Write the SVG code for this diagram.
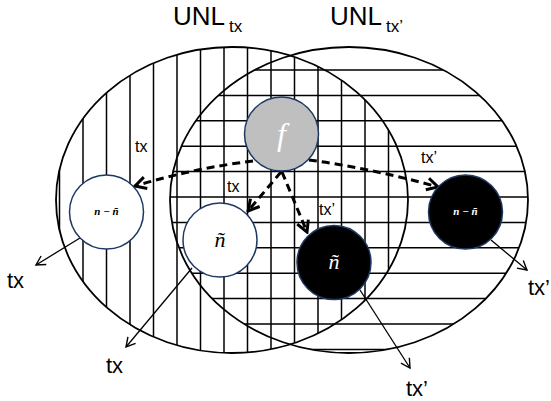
<svg xmlns="http://www.w3.org/2000/svg" width="551" height="401" viewBox="0 0 551 401">
<style>
.hatch{stroke:#000;stroke-width:1.5;fill:none}
.set{fill:none;stroke:#000;stroke-width:1.8}
.dash{fill:none;stroke:#000;stroke-width:3;stroke-dasharray:8 5}
.out{fill:none;stroke:#000;stroke-width:1.3}
.node{stroke:#1f3864;stroke-width:1.5}
.lbl{font-family:"Liberation Sans",Arial,sans-serif;fill:#000}
.math{font-family:"Liberation Serif","Times New Roman",serif;font-style:italic}
</style>
<defs>
<clipPath id="clipL"><ellipse cx="232" cy="200" rx="176" ry="153"/></clipPath>
<clipPath id="clipR"><ellipse cx="349" cy="200" rx="179" ry="153"/></clipPath>
<marker id="dh" markerUnits="userSpaceOnUse" markerWidth="16" markerHeight="16" viewBox="0 0 16 16" refX="14" refY="8" orient="auto">
<path d="M3,2 L14,8 L3,14" fill="none" stroke="#000" stroke-width="3" stroke-dasharray="none"/>
</marker>
<marker id="sh" markerUnits="userSpaceOnUse" markerWidth="14" markerHeight="14" viewBox="0 0 14 14" refX="12" refY="7" orient="auto">
<path d="M3,2 L12,7 L3,12" fill="none" stroke="#000" stroke-width="1.4"/>
</marker>
</defs>
<rect width="551" height="401" fill="#fff"/>
<g id="hatchL" clip-path="url(#clipL)" class="hatch">
<path d="M59.5,40V360M83,40V360M106.5,40V360M130,40V360M153.5,40V360M177,40V360M200.5,40V360M224,40V360M247.5,40V360M271,40V360M294.5,40V360M318,40V360M341.5,40V360M365,40V360M388.5,40V360"/>
</g>
<g id="hatchR" clip-path="url(#clipR)" class="hatch">
<path d="M160,70H540M160,95.4H540M160,120.8H540M160,146.2H540M160,171.6H540M160,197H540M160,222.4H540M160,247.8H540M160,273.2H540M160,298.6H540M160,324H540M160,349.4H540"/>
</g>
<g id="UNLtx">
<ellipse class="set" cx="232" cy="200" rx="176" ry="153"/>
<text class="lbl" x="173" y="25" font-size="26">UNL<tspan font-size="17" dx="4" dy="7">tx</tspan></text>
</g>
<g id="UNLtx2">
<ellipse class="set" cx="349" cy="200" rx="179" ry="153"/>
<text class="lbl" x="330" y="25" font-size="26">UNL<tspan font-size="17" dx="4" dy="7">tx’</tspan></text>
</g>
<g id="connectors">
<path class="dash" d="M253,161 Q195,168 135,186" marker-end="url(#dh)"/>
<path class="dash" d="M309,160 Q370,168 438,187" marker-end="url(#dh)"/>
<path class="dash" d="M281,172 L248,211" marker-end="url(#dh)"/>
<path class="dash" d="M282,172 L307,232" marker-end="url(#dh)"/>
<path class="out" d="M80,238 L36,265" marker-end="url(#sh)"/>
<path class="out" d="M192,268 L126,347" marker-end="url(#sh)"/>
<path class="out" d="M360,290 L410,368" marker-end="url(#sh)"/>
<path class="out" d="M491,240 L527,270" marker-end="url(#sh)"/>
<text class="lbl" x="135" y="152" font-size="16">tx</text>
<text class="lbl" x="227" y="192" font-size="16">tx</text>
<text class="lbl" x="421" y="163" font-size="16">tx’</text>
<text class="lbl" x="319" y="215" font-size="16">tx’</text>
<text class="lbl" x="7" y="288" font-size="22">tx</text>
<text class="lbl" x="106" y="373" font-size="22">tx</text>
<text class="lbl" x="406" y="396" font-size="22">tx’</text>
<text class="lbl" x="528" y="295" font-size="22">tx’</text>
</g>
<g id="node-f">
<circle class="node" cx="281.5" cy="134" r="37" fill="#bfbfbf"/>
<text class="math" x="281.5" y="145" font-size="32" fill="#fff" text-anchor="middle">f</text>
</g>
<g id="node-n-minus-left">
<circle class="node" cx="106.5" cy="212" r="37" fill="#fff"/>
<text class="math" x="106.5" y="215" font-size="11" font-weight="bold" fill="#000" text-anchor="middle">n − ñ</text>
</g>
<g id="node-ntilde-white">
<circle class="node" cx="220" cy="240" r="37" fill="#fff"/>
<text class="math" x="220" y="247" font-size="22" fill="#000" text-anchor="middle">ñ</text>
</g>
<g id="node-ntilde-black">
<circle class="node" cx="334" cy="262.5" r="37" fill="#000"/>
<text class="math" x="334" y="269" font-size="22" fill="#fff" text-anchor="middle">ñ</text>
</g>
<g id="node-n-minus-right">
<circle class="node" cx="465.5" cy="212" r="37" fill="#000"/>
<text class="math" x="465.5" y="215" font-size="11" font-weight="bold" fill="#fff" text-anchor="middle">n − ñ</text>
</g>
</svg>
